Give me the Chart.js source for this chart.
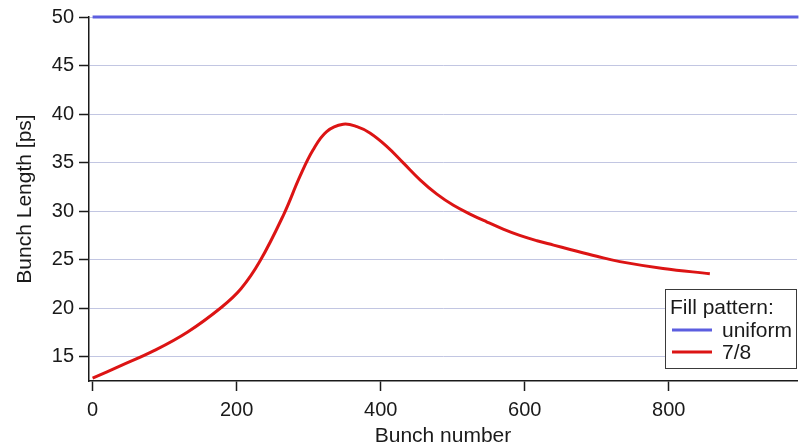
<!DOCTYPE html>
<html>
<head>
<meta charset="utf-8">
<title>Bunch length along the train</title>
<script src="https://cdn.jsdelivr.net/npm/chart.js@4.4.1/dist/chart.umd.min.js"></script>
<style>
  html, body { margin: 0; padding: 0; background: #ffffff; }
  #wrap { width: 805px; height: 445px; }
</style>
</head>
<body>
<div id="wrap"><canvas id="c" width="805" height="445"></canvas></div>
<script>
// Bunch length [ps] versus bunch number for two fill patterns
const uniformBunch = [0, 980];
const uniformLength = [50, 50];

const partialBunch = [0, 40, 86, 132, 179, 206, 232, 265, 288, 306, 325, 348, 367, 385, 408, 431, 455, 478, 501, 524, 547, 570, 593, 617, 640, 663, 700, 732, 792, 857];
const partialLength = [12.8, 14.1, 15.65, 17.55, 20.1, 22.0, 24.8, 29.6, 33.6, 36.3, 38.2, 38.95, 38.7, 38.05, 36.7, 35.0, 33.2, 31.75, 30.6, 29.7, 28.9, 28.15, 27.5, 26.95, 26.5, 26.05, 25.35, 24.8, 24.1, 23.55];

const xTicks = [0, 200, 400, 600, 800];
const yTicks = [15, 20, 25, 30, 35, 40, 45, 50];

const legendTitle = 'Fill pattern:';
const FONT = '"Liberation Sans", Arial, Helvetica, sans-serif';

const toPoints = (xs, ys) => xs.map((x, i) => ({ x: x, y: ys[i] }));

// Boxed legend drawn inside the lower-right corner of the plot area
const boxedLegend = {
  id: 'boxedLegend',
  afterDraw(chart) {
    const ctx = chart.ctx;
    const area = chart.chartArea;
    const w = 131, h = 79;
    const x0 = area.right - w - 1, y0 = area.bottom - h - 13;
    ctx.save();
    ctx.fillStyle = '#ffffff';
    ctx.fillRect(x0, y0, w, h);
    ctx.strokeStyle = '#3a3a3a';
    ctx.lineWidth = 1;
    ctx.strokeRect(x0 + 0.5, y0 + 0.5, w, h);
    ctx.fillStyle = '#1a1a1a';
    ctx.font = '21px ' + FONT;
    ctx.textBaseline = 'alphabetic';
    ctx.textAlign = 'left';
    ctx.fillText(legendTitle, x0 + 5, y0 + 25);
    chart.data.datasets.forEach((ds, i) => {
      const yBase = y0 + 48 + i * 22;
      ctx.strokeStyle = ds.borderColor;
      ctx.lineWidth = 3;
      ctx.beginPath();
      ctx.moveTo(x0 + 7, yBase - 7);
      ctx.lineTo(x0 + 47, yBase - 7);
      ctx.stroke();
      ctx.fillStyle = '#1a1a1a';
      ctx.fillText(ds.label, x0 + 57, yBase);
    });
    ctx.restore();
  }
};

new Chart(document.getElementById('c'), {
  type: 'line',
  data: {
    datasets: [
      {
        label: 'uniform',
        data: toPoints(uniformBunch, uniformLength),
        borderColor: '#5c5ee0',
        borderWidth: 3,
        pointRadius: 0,
        clip: 4,
        fill: false
      },
      {
        label: '7/8',
        data: toPoints(partialBunch, partialLength),
        borderColor: '#dc1414',
        borderWidth: 3,
        pointRadius: 0,
        tension: 0.4,
        fill: false
      }
    ]
  },
  options: {
    responsive: false,
    animation: false,
    devicePixelRatio: 1,
    layout: { padding: { top: 16, right: 8, left: 0, bottom: 0 } },
    plugins: {
      legend: { display: false },
      tooltip: { enabled: false }
    },
    scales: {
      x: {
        type: 'linear',
        min: -5,
        max: 978,
        afterFit(s) { s.height = 64; },
        afterBuildTicks(s) { s.ticks = xTicks.map(v => ({ value: v })); },
        border: { display: true, color: '#1a1a1a', width: 1.5 },
        grid: {
          drawOnChartArea: false,
          drawTicks: true,
          tickLength: 10,
          tickColor: '#1a1a1a',
          tickWidth: 1.5
        },
        ticks: {
          color: '#1a1a1a',
          padding: 7,
          maxRotation: 0,
          font: { family: FONT, size: 20 }
        },
        title: {
          display: true,
          text: 'Bunch number',
          color: '#1a1a1a',
          font: { family: FONT, size: 21 },
          padding: { top: 0, bottom: -4 }
        }
      },
      y: {
        type: 'linear',
        min: 12.5,
        max: 50,
        afterFit(s) { s.width = 89; },
        afterBuildTicks(s) { s.ticks = yTicks.map(v => ({ value: v })); },
        border: { display: true, color: '#1a1a1a', width: 1.5 },
        grid: {
          color: '#c2c6e2',
          lineWidth: 1,
          borderDash: [1, 2],
          drawTicks: true,
          tickLength: 10,
          tickColor: '#1a1a1a',
          tickWidth: 1.5,
          tickBorderDash: []
        },
        ticks: {
          color: '#1a1a1a',
          padding: 5,
          font: { family: FONT, size: 20 }
        },
        title: {
          display: true,
          text: 'Bunch Length [ps]',
          color: '#1a1a1a',
          font: { family: FONT, size: 21 },
          padding: { top: 13, bottom: 0 }
        }
      }
    }
  },
  plugins: [boxedLegend]
});
</script>
</body>
</html>
